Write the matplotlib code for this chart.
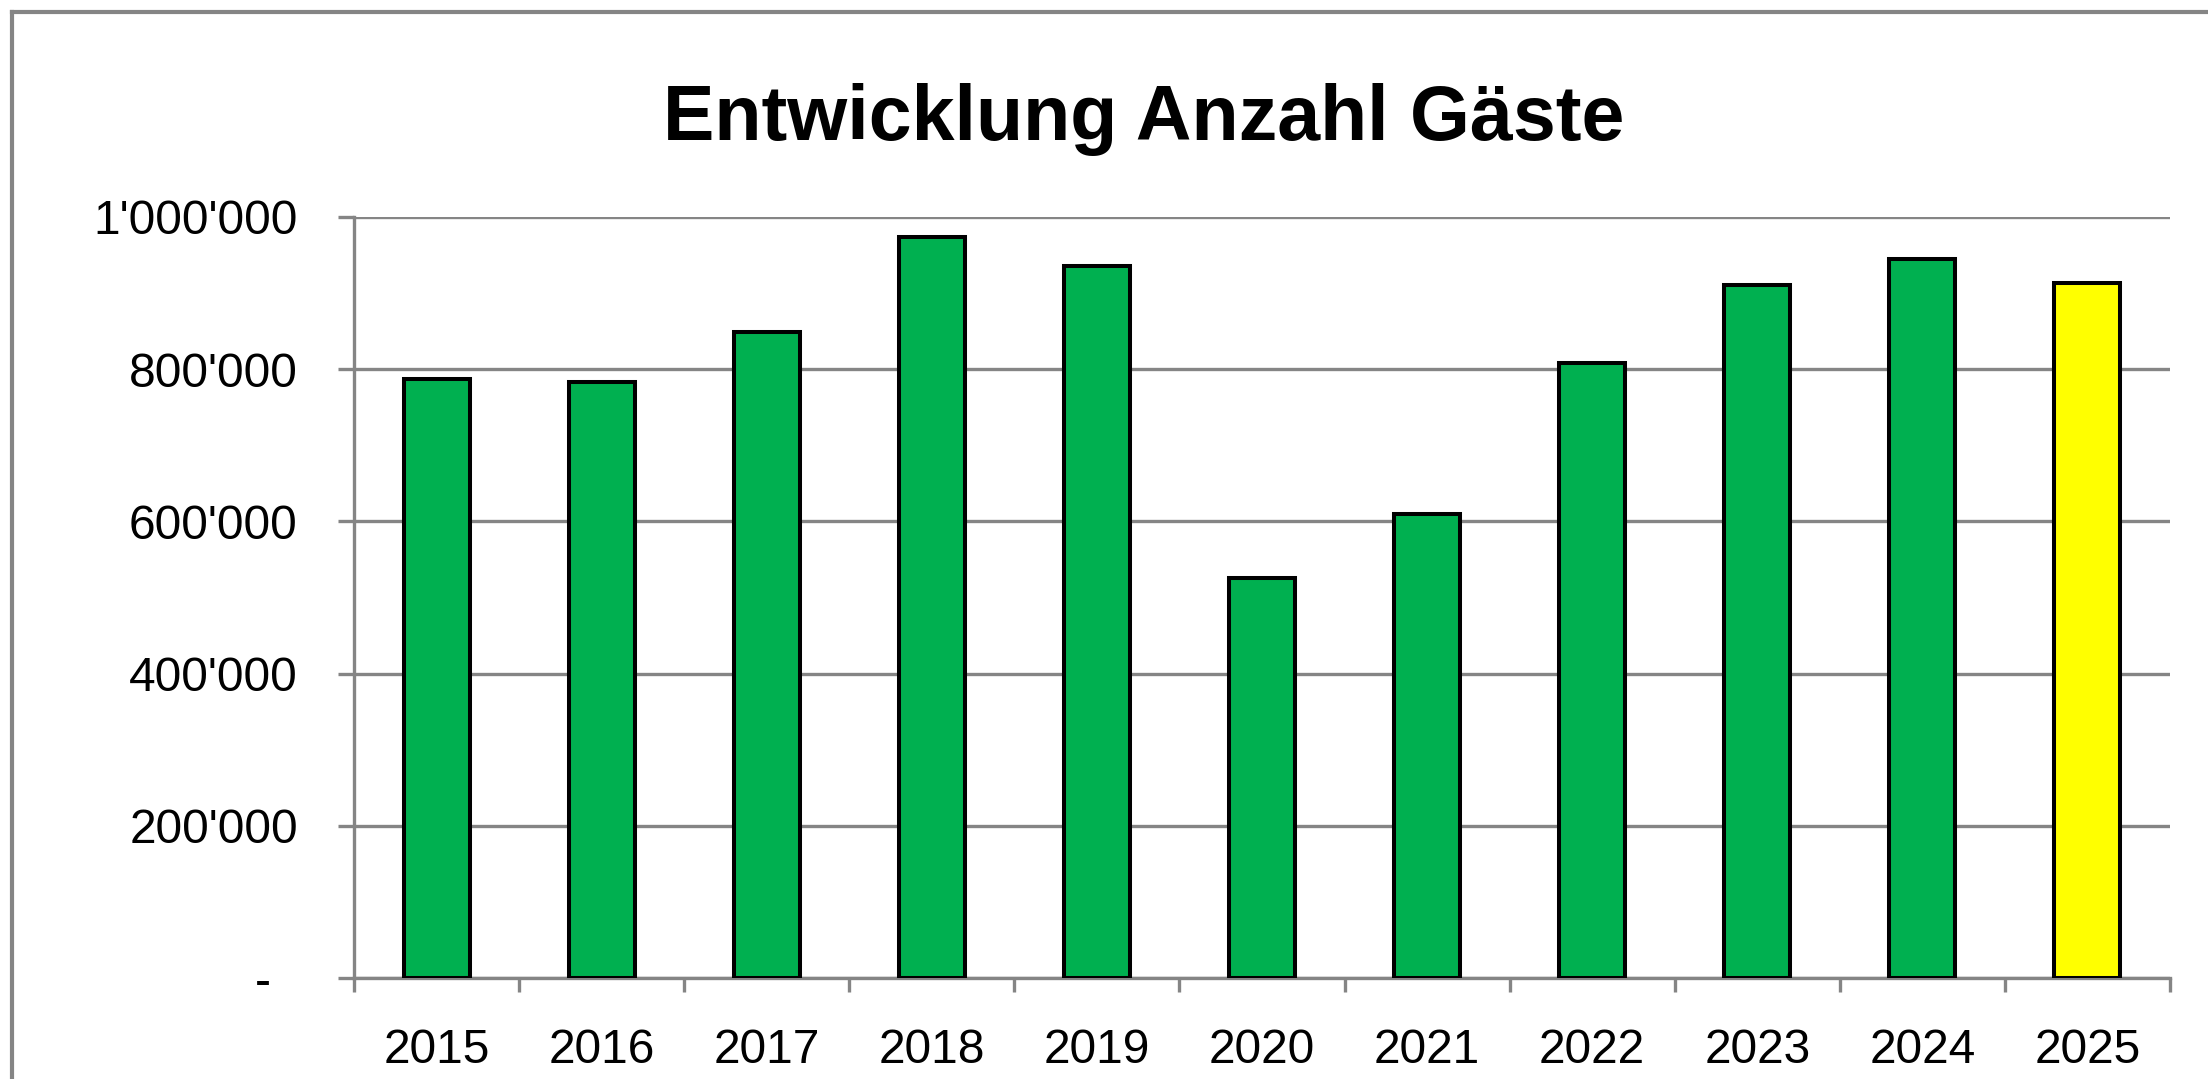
import matplotlib
matplotlib.use("Agg")
import matplotlib.pyplot as plt
from matplotlib.lines import Line2D
from matplotlib.ticker import FuncFormatter, FixedLocator

# --- Daten ---
years = ["2015", "2016", "2017", "2018", "2019", "2020", "2021", "2022", "2023", "2024", "2025"]
guests = [787000, 783000, 849000, 974000, 936000, 526000, 610000, 808000, 911000, 945000, 913000]
bar_colors = ["#00B050"] * 10 + ["#FFFF00"]
y_ticks = [0, 200000, 400000, 600000, 800000, 1000000]

GRAY = "#858585"
W, H = 2208, 1079

plt.rcParams["font.family"] = ["Liberation Sans", "DejaVu Sans"]

fig = plt.figure(figsize=(W / 100, H / 100), dpi=100)
ax = fig.add_axes([354 / W, 1 - 978 / H, (2170 - 354) / W, (978 - 217) / H])

x = list(range(len(years)))
ax.bar(x, guests, width=0.4, color=bar_colors, edgecolor="black", linewidth=2.9, zorder=3)

ax.set_xlim(-0.5, len(years) - 0.5)
ax.set_ylim(0, 1000000)

# y-Achse: Excel-Format mit Apostroph, Null als "-"
def fmt(v, pos):
    if v == 0:
        return "-  "
    return f"{v:,.0f}".replace(",", "'")

ax.yaxis.set_major_locator(FixedLocator(y_ticks))
ax.yaxis.set_major_formatter(FuncFormatter(fmt))
ax.grid(axis="y", color=GRAY, linewidth=2.4, zorder=0)

# x-Achse: Beschriftung in der Mitte, Striche an den Kategoriegrenzen
ax.set_xticks(x)
ax.set_xticklabels(years)
ax.set_xticks([i - 0.5 for i in range(len(years) + 1)], minor=True)
ax.tick_params(axis="x", which="major", length=0, pad=36, labelsize=34.5)
ax.tick_params(axis="x", which="minor", length=10, width=2.4, color=GRAY, direction="out")
ax.tick_params(axis="y", length=11.5, width=2.4, color=GRAY, direction="out", pad=29, labelsize=34.5)

for s in ["top", "right"]:
    ax.spines[s].set_visible(False)
for s in ["left", "bottom"]:
    ax.spines[s].set_color(GRAY)
    ax.spines[s].set_linewidth(2.4)

fig.text(1144 / W, 1 - 140 / H, "Entwicklung Anzahl Gäste", ha="center", va="baseline",
         fontsize=55.5, fontweight="bold")

# Rahmen des Diagrammbereichs (nur links und oben sichtbar)
fig.add_artist(Line2D([12 / W, 12 / W], [0, 1 - 12 / H], color=GRAY, linewidth=3, transform=fig.transFigure))
fig.add_artist(Line2D([12 / W, 1], [1 - 12 / H, 1 - 12 / H], color=GRAY, linewidth=3, transform=fig.transFigure))

fig.savefig("out.png", dpi=100)
